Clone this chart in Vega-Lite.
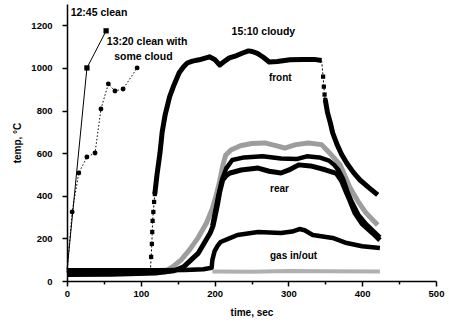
{
  "$schema": "https://vega.github.io/schema/vega-lite/v6.json",
  "width": 369,
  "height": 277,
  "autosize": {"type": "none"},
  "padding": {"left": 67, "top": 4, "right": 13, "bottom": 42},
  "background": "white",
  "config": {
    "view": {"stroke": null},
    "font": "Liberation Sans",
    "axis": {
      "grid": false,
      "domainColor": "black",
      "domainWidth": 1.5,
      "tickColor": "black",
      "tickWidth": 1.5,
      "labelColor": "black",
      "labelFont": "Liberation Sans",
      "labelFontWeight": "bold",
      "labelFontSize": 9.5,
      "titleColor": "black",
      "titleFont": "Liberation Sans",
      "titleFontWeight": "bold",
      "titleFontSize": 10,
      "labelFlush": false,
      "labelOverlap": false
    }
  },
  "datasets": {
    "curves": [
      {"s": "front", "g": "A", "t": 0, "T": 35}, {"s": "front", "g": "A", "t": 40, "T": 37}, {"s": "front", "g": "A", "t": 80, "T": 38}, {"s": "front", "g": "A", "t": 110, "T": 40}, {"s": "front", "g": "A", "t": 113, "T": 45},
      {"s": "front", "g": "B", "t": 119, "T": 408}, {"s": "front", "g": "B", "t": 120, "T": 440}, {"s": "front", "g": "B", "t": 122, "T": 500}, {"s": "front", "g": "B", "t": 126, "T": 601}, {"s": "front", "g": "B", "t": 129, "T": 700}, {"s": "front", "g": "B", "t": 133, "T": 780}, {"s": "front", "g": "B", "t": 139, "T": 864}, {"s": "front", "g": "B", "t": 145, "T": 920}, {"s": "front", "g": "B", "t": 152, "T": 977}, {"s": "front", "g": "B", "t": 158, "T": 1005}, {"s": "front", "g": "B", "t": 163, "T": 1023}, {"s": "front", "g": "B", "t": 170, "T": 1032}, {"s": "front", "g": "B", "t": 179, "T": 1038}, {"s": "front", "g": "B", "t": 186, "T": 1045}, {"s": "front", "g": "B", "t": 193, "T": 1052}, {"s": "front", "g": "B", "t": 200, "T": 1040}, {"s": "front", "g": "B", "t": 207, "T": 1014}, {"s": "front", "g": "B", "t": 213, "T": 1030}, {"s": "front", "g": "B", "t": 220, "T": 1047}, {"s": "front", "g": "B", "t": 230, "T": 1058}, {"s": "front", "g": "B", "t": 238, "T": 1070}, {"s": "front", "g": "B", "t": 246, "T": 1080}, {"s": "front", "g": "B", "t": 251, "T": 1077}, {"s": "front", "g": "B", "t": 258, "T": 1068}, {"s": "front", "g": "B", "t": 266, "T": 1050}, {"s": "front", "g": "B", "t": 274, "T": 1028}, {"s": "front", "g": "B", "t": 285, "T": 1030}, {"s": "front", "g": "B", "t": 302, "T": 1038}, {"s": "front", "g": "B", "t": 320, "T": 1040}, {"s": "front", "g": "B", "t": 335, "T": 1040}, {"s": "front", "g": "B", "t": 345, "T": 1035},
      {"s": "front", "g": "C", "t": 350, "T": 850}, {"s": "front", "g": "C", "t": 353, "T": 790}, {"s": "front", "g": "C", "t": 357, "T": 740}, {"s": "front", "g": "C", "t": 360, "T": 695}, {"s": "front", "g": "C", "t": 366, "T": 640}, {"s": "front", "g": "C", "t": 372, "T": 595}, {"s": "front", "g": "C", "t": 379, "T": 554}, {"s": "front", "g": "C", "t": 388, "T": 510}, {"s": "front", "g": "C", "t": 397, "T": 474}, {"s": "front", "g": "C", "t": 409, "T": 438}, {"s": "front", "g": "C", "t": 421, "T": 404},
      {"s": "front markers", "g": "m1", "t": 113, "T": 45}, {"s": "front markers", "g": "m1", "t": 114, "T": 113}, {"s": "front markers", "g": "m1", "t": 115, "T": 174}, {"s": "front markers", "g": "m1", "t": 115.5, "T": 230}, {"s": "front markers", "g": "m1", "t": 116, "T": 282}, {"s": "front markers", "g": "m1", "t": 117, "T": 324}, {"s": "front markers", "g": "m1", "t": 118, "T": 371}, {"s": "front markers", "g": "m1", "t": 119, "T": 408},
      {"s": "front markers", "g": "m2", "t": 345, "T": 1035}, {"s": "front markers", "g": "m2", "t": 347, "T": 959}, {"s": "front markers", "g": "m2", "t": 348, "T": 912}, {"s": "front markers", "g": "m2", "t": 349, "T": 875}, {"s": "front markers", "g": "m2", "t": 350, "T": 850},
      {"s": "rear outer", "g": "A", "t": 130, "T": 38}, {"s": "rear outer", "g": "A", "t": 143, "T": 66}, {"s": "rear outer", "g": "A", "t": 155, "T": 100}, {"s": "rear outer", "g": "A", "t": 166, "T": 146}, {"s": "rear outer", "g": "A", "t": 178, "T": 205}, {"s": "rear outer", "g": "A", "t": 189, "T": 272}, {"s": "rear outer", "g": "A", "t": 197, "T": 340}, {"s": "rear outer", "g": "A", "t": 202, "T": 400}, {"s": "rear outer", "g": "A", "t": 207, "T": 470}, {"s": "rear outer", "g": "A", "t": 211, "T": 540}, {"s": "rear outer", "g": "A", "t": 215, "T": 590}, {"s": "rear outer", "g": "A", "t": 222, "T": 615}, {"s": "rear outer", "g": "A", "t": 235, "T": 635}, {"s": "rear outer", "g": "A", "t": 250, "T": 645}, {"s": "rear outer", "g": "A", "t": 268, "T": 648}, {"s": "rear outer", "g": "A", "t": 283, "T": 635}, {"s": "rear outer", "g": "A", "t": 295, "T": 624}, {"s": "rear outer", "g": "A", "t": 310, "T": 640}, {"s": "rear outer", "g": "A", "t": 327, "T": 648}, {"s": "rear outer", "g": "A", "t": 345, "T": 640}, {"s": "rear outer", "g": "A", "t": 352, "T": 615}, {"s": "rear outer", "g": "A", "t": 360, "T": 585}, {"s": "rear outer", "g": "A", "t": 370, "T": 545}, {"s": "rear outer", "g": "A", "t": 377, "T": 490}, {"s": "rear outer", "g": "A", "t": 383, "T": 441}, {"s": "rear outer", "g": "A", "t": 395, "T": 370}, {"s": "rear outer", "g": "A", "t": 405, "T": 320}, {"s": "rear outer", "g": "A", "t": 421, "T": 263},
      {"s": "rear 2", "g": "A", "t": 0, "T": 30}, {"s": "rear 2", "g": "A", "t": 60, "T": 32}, {"s": "rear 2", "g": "A", "t": 120, "T": 38}, {"s": "rear 2", "g": "A", "t": 145, "T": 48}, {"s": "rear 2", "g": "A", "t": 158, "T": 66}, {"s": "rear 2", "g": "A", "t": 178, "T": 131}, {"s": "rear 2", "g": "A", "t": 194, "T": 225}, {"s": "rear 2", "g": "A", "t": 198, "T": 260}, {"s": "rear 2", "g": "A", "t": 201, "T": 310}, {"s": "rear 2", "g": "A", "t": 204, "T": 360}, {"s": "rear 2", "g": "A", "t": 207, "T": 420}, {"s": "rear 2", "g": "A", "t": 211, "T": 474}, {"s": "rear 2", "g": "A", "t": 216, "T": 495}, {"s": "rear 2", "g": "A", "t": 221, "T": 507}, {"s": "rear 2", "g": "A", "t": 236, "T": 521}, {"s": "rear 2", "g": "A", "t": 259, "T": 530}, {"s": "rear 2", "g": "A", "t": 274, "T": 515}, {"s": "rear 2", "g": "A", "t": 290, "T": 507}, {"s": "rear 2", "g": "A", "t": 300, "T": 520}, {"s": "rear 2", "g": "A", "t": 314, "T": 545}, {"s": "rear 2", "g": "A", "t": 330, "T": 540}, {"s": "rear 2", "g": "A", "t": 350, "T": 522}, {"s": "rear 2", "g": "A", "t": 365, "T": 505}, {"s": "rear 2", "g": "A", "t": 372, "T": 470}, {"s": "rear 2", "g": "A", "t": 378, "T": 420}, {"s": "rear 2", "g": "A", "t": 383, "T": 380}, {"s": "rear 2", "g": "A", "t": 390, "T": 320}, {"s": "rear 2", "g": "A", "t": 400, "T": 268}, {"s": "rear 2", "g": "A", "t": 414, "T": 225}, {"s": "rear 2", "g": "A", "t": 424, "T": 192},
      {"s": "rear 1", "g": "A", "t": 197, "T": 260}, {"s": "rear 1", "g": "A", "t": 201, "T": 330}, {"s": "rear 1", "g": "A", "t": 205, "T": 400}, {"s": "rear 1", "g": "A", "t": 210, "T": 475}, {"s": "rear 1", "g": "A", "t": 216, "T": 530}, {"s": "rear 1", "g": "A", "t": 224, "T": 568}, {"s": "rear 1", "g": "A", "t": 240, "T": 580}, {"s": "rear 1", "g": "A", "t": 265, "T": 585}, {"s": "rear 1", "g": "A", "t": 290, "T": 575}, {"s": "rear 1", "g": "A", "t": 311, "T": 572}, {"s": "rear 1", "g": "A", "t": 325, "T": 585}, {"s": "rear 1", "g": "A", "t": 342, "T": 580}, {"s": "rear 1", "g": "A", "t": 355, "T": 565}, {"s": "rear 1", "g": "A", "t": 362, "T": 545}, {"s": "rear 1", "g": "A", "t": 368, "T": 520}, {"s": "rear 1", "g": "A", "t": 374, "T": 480}, {"s": "rear 1", "g": "A", "t": 380, "T": 420}, {"s": "rear 1", "g": "A", "t": 386, "T": 370}, {"s": "rear 1", "g": "A", "t": 395, "T": 310}, {"s": "rear 1", "g": "A", "t": 405, "T": 268}, {"s": "rear 1", "g": "A", "t": 418, "T": 225}, {"s": "rear 1", "g": "A", "t": 424, "T": 205},
      {"s": "gas in/out", "g": "A", "t": 0, "T": 50}, {"s": "gas in/out", "g": "A", "t": 60, "T": 50}, {"s": "gas in/out", "g": "A", "t": 120, "T": 50}, {"s": "gas in/out", "g": "A", "t": 160, "T": 52}, {"s": "gas in/out", "g": "A", "t": 185, "T": 55}, {"s": "gas in/out", "g": "A", "t": 196, "T": 62}, {"s": "gas in/out", "g": "A", "t": 197, "T": 99}, {"s": "gas in/out", "g": "A", "t": 200, "T": 140}, {"s": "gas in/out", "g": "A", "t": 204, "T": 165}, {"s": "gas in/out", "g": "A", "t": 208, "T": 183}, {"s": "gas in/out", "g": "A", "t": 220, "T": 200}, {"s": "gas in/out", "g": "A", "t": 231, "T": 216}, {"s": "gas in/out", "g": "A", "t": 259, "T": 230}, {"s": "gas in/out", "g": "A", "t": 290, "T": 225}, {"s": "gas in/out", "g": "A", "t": 305, "T": 232}, {"s": "gas in/out", "g": "A", "t": 315, "T": 244}, {"s": "gas in/out", "g": "A", "t": 322, "T": 238}, {"s": "gas in/out", "g": "A", "t": 333, "T": 216}, {"s": "gas in/out", "g": "A", "t": 360, "T": 202}, {"s": "gas in/out", "g": "A", "t": 379, "T": 178}, {"s": "gas in/out", "g": "A", "t": 400, "T": 163}, {"s": "gas in/out", "g": "A", "t": 424, "T": 155},
      {"s": "ambient", "g": "A", "t": 197, "T": 45}, {"s": "ambient", "g": "A", "t": 250, "T": 44}, {"s": "ambient", "g": "A", "t": 300, "T": 47}, {"s": "ambient", "g": "A", "t": 350, "T": 46}, {"s": "ambient", "g": "A", "t": 424, "T": 45},
      {"s": "12:45 clean", "g": "A", "t": 0, "T": 50}, {"s": "12:45 clean", "g": "A", "t": 27, "T": 1000}, {"s": "12:45 clean", "g": "A", "t": 53, "T": 1174},
      {"s": "13:20 clean with some cloud", "g": "A", "t": 0, "T": 40}, {"s": "13:20 clean with some cloud", "g": "A", "t": 7, "T": 324}, {"s": "13:20 clean with some cloud", "g": "A", "t": 16, "T": 507}, {"s": "13:20 clean with some cloud", "g": "A", "t": 27, "T": 582}, {"s": "13:20 clean with some cloud", "g": "A", "t": 38, "T": 601}, {"s": "13:20 clean with some cloud", "g": "A", "t": 46, "T": 807}, {"s": "13:20 clean with some cloud", "g": "A", "t": 56, "T": 925}, {"s": "13:20 clean with some cloud", "g": "A", "t": 65, "T": 892}, {"s": "13:20 clean with some cloud", "g": "A", "t": 76, "T": 901}, {"s": "13:20 clean with some cloud", "g": "A", "t": 95, "T": 1000}
    ]
  },
  "encoding": {
    "x": {
      "field": "t", "type": "quantitative",
      "scale": {"domain": [0, 500], "nice": false, "zero": false},
      "axis": {
        "title": "time, sec",
        "format": "d",
        "values": [0, 50, 100, 150, 200, 250, 300, 350, 400, 450, 500],
        "labelExpr": "datum.value % 100 === 0 ? datum.label : ''",
        "tickSize": {"condition": {"test": "datum.value % 100 === 0", "value": 5}, "value": 3},
        "labelPadding": 2,
        "titlePadding": 10
      }
    },
    "y": {
      "field": "T", "type": "quantitative",
      "scale": {"domain": [0, 1300], "nice": false},
      "axis": {
        "title": "temp, °C",
        "format": "d",
        "values": [0, 200, 400, 600, 800, 1000, 1200],
        "tickSize": 5,
        "labelPadding": 10,
        "titlePadding": 8
      }
    }
  },
  "layer": [
    {"data": {"name": "curves"}, "transform": [{"filter": "datum.s === 'rear outer'"}],
     "mark": {"type": "line", "color": "#9d9d9d", "strokeWidth": 5, "strokeJoin": "round"},
     "encoding": {"detail": {"field": "g"}}},
    {"data": {"name": "curves"}, "transform": [{"filter": "datum.s === 'ambient'"}],
     "mark": {"type": "line", "color": "#b0b0b0", "strokeWidth": 4},
     "encoding": {"detail": {"field": "g"}}},
    {"data": {"name": "curves"}, "transform": [{"filter": "datum.s === 'front' || datum.s === 'rear 2'"}],
     "mark": {"type": "line", "color": "black", "strokeWidth": 5, "strokeJoin": "round"},
     "encoding": {"detail": {"field": "g"}, "color": {"field": "s", "type": "nominal", "scale": {"range": ["black", "black"]}, "legend": null}}},
    {"data": {"name": "curves"}, "transform": [{"filter": "datum.s === 'gas in/out'"}],
     "mark": {"type": "line", "color": "black", "strokeWidth": 4.5, "strokeJoin": "round"},
     "encoding": {"detail": {"field": "g"}}},
    {"data": {"name": "curves"}, "transform": [{"filter": "datum.s === 'rear 1'"}],
     "mark": {"type": "line", "color": "black", "strokeWidth": 4.5, "strokeJoin": "round"},
     "encoding": {"detail": {"field": "g"}}},
    {"data": {"name": "curves"}, "transform": [{"filter": "datum.s === 'front markers'"}],
     "mark": {"type": "line", "color": "black", "strokeWidth": 1, "strokeDash": [2, 2]},
     "encoding": {"detail": {"field": "g"}}},
    {"data": {"name": "curves"}, "transform": [{"filter": "datum.s === 'front markers' && datum.T > 60 && datum.T < 1000"}],
     "mark": {"type": "point", "shape": "square", "filled": true, "color": "black", "size": 18, "opacity": 1},
     "encoding": {}},
    {"data": {"name": "curves"}, "transform": [{"filter": "datum.s === '12:45 clean'"}],
     "mark": {"type": "line", "color": "black", "strokeWidth": 1},
     "encoding": {}},
    {"data": {"name": "curves"}, "transform": [{"filter": "datum.s === '12:45 clean' && datum.T > 60"}],
     "mark": {"type": "point", "shape": "square", "filled": true, "color": "black", "size": 28, "opacity": 1},
     "encoding": {}},
    {"data": {"name": "curves"}, "transform": [{"filter": "datum.s === '13:20 clean with some cloud'"}],
     "mark": {"type": "line", "color": "black", "strokeWidth": 1, "strokeDash": [1.5, 2]},
     "encoding": {}},
    {"data": {"name": "curves"}, "transform": [{"filter": "datum.s === '13:20 clean with some cloud' && datum.T > 60"}],
     "mark": {"type": "point", "shape": "circle", "filled": true, "color": "black", "size": 24, "opacity": 1},
     "encoding": {}},
    {"data": {"values": [
        {"label": "12:45 clean", "t": 5, "T": 1258},
        {"label": "13:20 clean with", "t": 54, "T": 1122},
        {"label": "some cloud", "t": 64, "T": 1052},
        {"label": "15:10 cloudy", "t": 223, "T": 1169}
      ]},
     "mark": {"type": "text", "align": "left", "baseline": "middle", "font": "Liberation Sans", "fontWeight": "bold", "fontSize": 10.5, "color": "black"},
     "encoding": {"text": {"field": "label"}}},
    {"data": {"values": [
        {"label": "front", "t": 289, "T": 953},
        {"label": "rear", "t": 288, "T": 432},
        {"label": "gas in/out", "t": 307, "T": 117}
      ]},
     "mark": {"type": "text", "align": "center", "baseline": "middle", "font": "Liberation Sans", "fontWeight": "bold", "fontSize": 10, "color": "black"},
     "encoding": {"text": {"field": "label"}}}
  ]
}
